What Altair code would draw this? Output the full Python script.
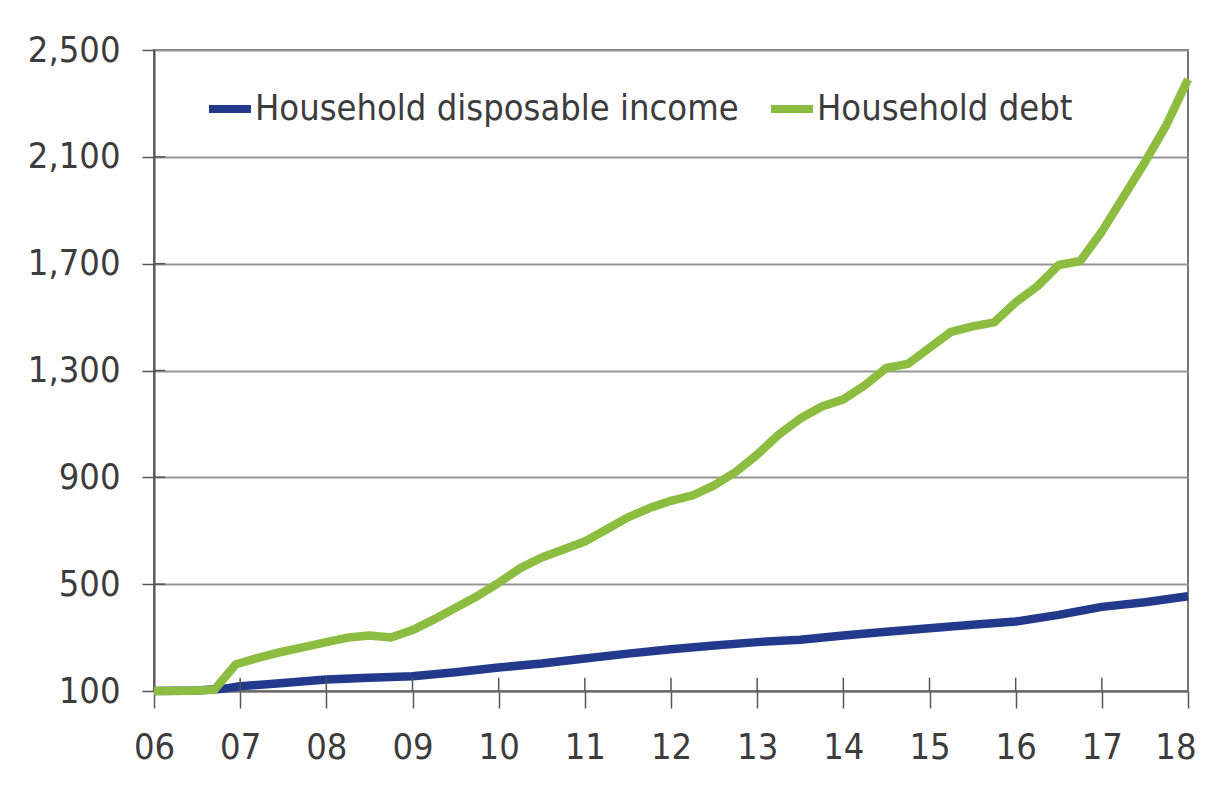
import altair as alt
import pandas as pd

# ---- data ----
debt_years = [2006.0, 2006.25, 2006.5, 2006.7, 2006.95, 2007.25, 2007.5, 2007.75,
              2008.0, 2008.25, 2008.5, 2008.75, 2009.0, 2009.25, 2009.5, 2009.75,
              2010.0, 2010.25, 2010.5, 2010.75, 2011.0, 2011.25, 2011.5, 2011.75,
              2012.0, 2012.25, 2012.5, 2012.75, 2013.0, 2013.25, 2013.5, 2013.75,
              2014.0, 2014.25, 2014.5, 2014.75, 2015.0, 2015.25, 2015.5, 2015.75,
              2016.0, 2016.25, 2016.5, 2016.75, 2017.0, 2017.25, 2017.5, 2017.75, 2018.0]
debt_values = [100, 100, 102, 105, 200, 228, 248, 265,
               283, 300, 308, 300, 328, 368, 412, 455,
               505, 560, 600, 630, 660, 705, 750, 785,
               812, 832, 870, 920, 985, 1060, 1120, 1165,
               1192, 1245, 1310, 1325, 1385, 1445, 1465, 1480,
               1555, 1615, 1695, 1710, 1820, 1950, 2080, 2220, 2390]

income_years = [2006.0, 2006.5, 2006.8, 2007.0, 2007.5, 2008.0, 2008.5, 2009.0,
                2009.5, 2010.0, 2010.5, 2011.0, 2011.5, 2012.0, 2012.5, 2013.0,
                2013.5, 2014.0, 2014.5, 2015.0, 2015.5, 2016.0, 2016.5, 2017.0,
                2017.5, 2018.0]
income_values = [100, 102, 108, 118, 130, 143, 150, 155,
                 170, 188, 203, 222, 240, 256, 270, 283,
                 292, 308, 322, 335, 348, 360, 385, 415,
                 432, 455]

series_names = ["Household disposable income", "Household debt"]
series_colors = ["#22398c", "#8cbd40"]

x_ticks = list(range(2006, 2019))
y_ticks = [100, 500, 900, 1300, 1700, 2100, 2500]

FONT = "DejaVu Sans Condensed, Liberation Sans, sans-serif"
FS = 36

income_df = pd.DataFrame({"year": income_years, "value": income_values,
                          "series": series_names[0]})
debt_df = pd.DataFrame({"year": debt_years, "value": debt_values,
                        "series": series_names[1]})

color = alt.Color(
    "series:N",
    scale=alt.Scale(domain=series_names, range=series_colors),
    legend=alt.Legend(
        title=None, orient="none", legendX=51, legendY=34,
        direction="horizontal", columns=2,
        symbolType="stroke", symbolSize=1764, symbolStrokeWidth=8,
        labelFont=FONT, labelFontSize=FS, labelColor="#3c3c3c",
        labelOffset=0, columnPadding=16, padding=0,
        labelLimit=0,
    ),
)

x_scale = alt.Scale(domain=[2006, 2018], nice=False, zero=False)
y_scale = alt.Scale(domain=[100, 2500], nice=False, zero=False)

x_axis = alt.Axis(
    title=None, values=x_ticks, grid=False,
    labelExpr="substring(toString(datum.value), 2, 4)",
    labelFont=FONT, labelFontSize=FS, labelColor="#3c3c3c",
    labelAlign={"condition": {"test": "datum.value == 2018", "value": "right"},
                "value": "center"},
    labelOffset={"condition": {"test": "datum.value == 2018", "value": 8},
                 "value": 0},
    tickSize=17, tickColor="#555555", tickWidth=1.5,
    domainColor="#666666", domainWidth=2,
    labelPadding=22, labelFlush=False, labelOverlap=False,
)
y_axis = alt.Axis(
    title=None, values=y_ticks,
    labelExpr="format(datum.value, ',')",
    labelFont=FONT, labelFontSize=FS, labelColor="#3c3c3c",
    tickSize=12, tickColor="#555555", tickWidth=1.5,
    domainColor="#555555", domainWidth=2,
    gridColor="#959595", gridWidth=2,
    labelPadding=22, labelFlush=False, labelOverlap=False,
)

x_enc = alt.X("year:Q", scale=x_scale, axis=x_axis)
y_enc = alt.Y("value:Q", scale=y_scale, axis=y_axis)

income_line = alt.Chart(income_df).mark_line(strokeWidth=8.5, strokeJoin="round").encode(
    x=x_enc, y=y_enc, color=color)
debt_line = alt.Chart(debt_df).mark_line(strokeWidth=8.5, strokeJoin="round").encode(
    x=x_enc, y=y_enc, color=color)

# inner parts of the tick marks (they cross the axis lines in the reference)
xtick_df = pd.DataFrame({"year": x_ticks[1:-1], "lo": 100, "hi": 150})
xtick_inner = alt.Chart(xtick_df).mark_rule(color="#555555", strokeWidth=1.5).encode(
    x=x_enc,
    y=alt.Y("lo:Q", scale=y_scale, axis=y_axis), y2="hi:Q")
ytick_df = pd.DataFrame({"value": y_ticks[1:-1], "lo": 2006.0, "hi": 2006.13})
ytick_inner = alt.Chart(ytick_df).mark_rule(color="#555555", strokeWidth=1.5).encode(
    y=y_enc,
    x=alt.X("lo:Q", scale=x_scale, axis=x_axis), x2="hi:Q")

chart = alt.layer(income_line, debt_line, xtick_inner, ytick_inner).properties(
    width=1034, height=641,
    autosize=alt.AutoSizeParams(type="none"),
    padding={"left": 146, "top": 42, "right": 9, "bottom": 90},
    background="white",
).configure_view(stroke="#777777", strokeWidth=2)

chart.save("out.html", embed_options={"renderer": "svg", "actions": False})
